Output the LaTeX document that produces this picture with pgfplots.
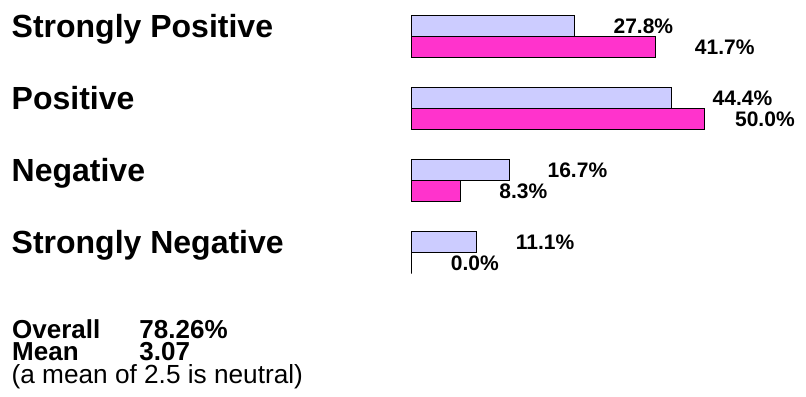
\documentclass[border=0pt]{standalone}
\usepackage{pgfplots}
\pgfplotsset{compat=1.18}
\usepackage{pgfplotstable}
\usepackage{fontspec}
\setmainfont{Liberation Sans}
\definecolor{lightbar}{HTML}{CCCCFF}
\definecolor{pinkbar}{HTML}{FF33CC}

\pgfplotstableread{
y x dx
0 27.8 39
1 44.4 41
2 16.7 38
3 11.1 39
}\lighttable

\pgfplotstableread{
y x dx
0 41.7 39
1 50.0 30.6
2 8.3 39
3 0.0 39
}\pinktable

\begin{document}
\begin{tikzpicture}
\begin{axis}[
  x=5.852bp, y=72bp, y dir=reverse,
  xmin=-70.352, xmax=67.378,
  ymin=-0.50486, ymax=5.00903,
  hide axis, clip=false,
  /pgf/number format/assume math mode=true,
  bar width=21.3bp,
]
\path (axis cs:-70.352,-0.50486) rectangle (axis cs:67.378,5.00903);

\addplot[xbar, bar shift=10.65bp, fill=lightbar, draw=black, line width=0.7bp,
  visualization depends on={\thisrow{dx} \as \dx},
  nodes near coords={\pgfmathprintnumber[fixed,fixed zerofill,precision=1]{\pgfplotspointmeta}\%},
  every node near coord/.append style={anchor=west, inner sep=0pt, text height=15.04bp, text depth=0pt,
    font=\fontsize{21bp}{24bp}\selectfont\bfseries, text=black, xshift=\dx pt, yshift=10.65bp}]
  table[x=x, y=y] {\lighttable};

\addplot[xbar, bar shift=-10.65bp, fill=pinkbar, draw=black, line width=0.7bp,
  visualization depends on={\thisrow{dx} \as \dx},
  nodes near coords={\pgfmathprintnumber[fixed,fixed zerofill,precision=1]{\pgfplotspointmeta}\%},
  every node near coord/.append style={anchor=west, inner sep=0pt, text height=15.04bp, text depth=0pt,
    font=\fontsize{21bp}{24bp}\selectfont\bfseries, text=black, xshift=\dx pt, yshift=-10.65bp}]
  table[x=x, y=y] {\pinktable};

\tikzset{catlab/.style={anchor=base west, inner sep=0pt, font=\fontsize{32bp}{36bp}\selectfont\bfseries}}
\node[catlab] at (axis cs:-68.39,0.0139) {Strongly Positive};
\node[catlab] at (axis cs:-68.39,1.0139) {Positive};
\node[catlab] at (axis cs:-68.39,2.0139) {Negative};
\node[catlab] at (axis cs:-68.39,3.0139) {Strongly Negative};

\tikzset{botlab/.style={anchor=base west, inner sep=0pt, text height=18.6bp, text depth=0pt, font=\fontsize{26bp}{30bp}\selectfont\bfseries}}
\node[botlab] at (axis cs:-68.30,4.1937) {Overall};
\node[botlab] at (axis cs:-46.55,4.1937) {78.26\%};
\node[botlab] at (axis cs:-68.30,4.505) {Mean};
\node[botlab] at (axis cs:-46.55,4.505) {3.07};
\node[anchor=base west, inner sep=0pt, text height=18.6bp, font=\fontsize{26.2bp}{30bp}\selectfont] at (axis cs:-68.39,4.8146) {(a mean of 2.5 is neutral)};
\end{axis}
\end{tikzpicture}
\end{document}
